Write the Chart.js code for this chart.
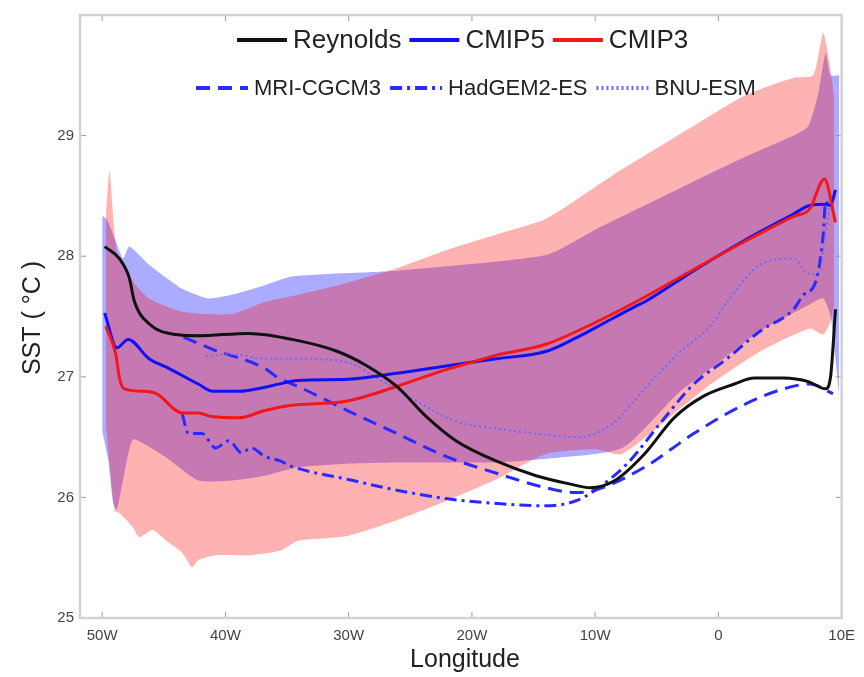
<!DOCTYPE html>
<html>
<head>
<meta charset="utf-8">
<script src="https://cdn.jsdelivr.net/npm/chart.js@4"></script>
<style>
  body { margin: 0; background: #fff; }
  #wrap { width: 864px; height: 677px; }
  canvas { filter: blur(0.6px); }
</style>
</head>
<body>
<div id="wrap"><canvas id="chart"></canvas></div>
<script>
// ---------- DATOS ----------
const xTickValues = [-50, -40, -30, -20, -10, 0, 10];
const xTickLabels = ['50W', '40W', '30W', '20W', '10W', '0', '10E'];
const yTickValues = [25, 26, 27, 28, 29];

// Reynolds (observado)
const reynoldsLon = [-49.8, -48.6, -47.8, -47.4, -46.2, -44.0, -42.2, -38.1, -34.1, -30.9, -28.5, -26.1, -23.7, -21.3, -18.0, -14.8, -12.0, -10.4, -8.4, -6.0, -3.6, -1.2, 1.3, 2.9, 5.3, 7.3, 8.7, 9.1, 9.5];
const reynoldsSst = [28.08, 27.98, 27.82, 27.63, 27.44, 27.35, 27.34, 27.36, 27.30, 27.21, 27.09, 26.92, 26.67, 26.47, 26.30, 26.18, 26.11, 26.08, 26.14, 26.36, 26.66, 26.84, 26.94, 26.99, 26.99, 26.96, 26.90, 27.00, 27.56];

// medias de los ensambles
const cmip5Lon = [-49.8, -48.8, -47.9, -46.2, -44.6, -42.2, -41.0, -38.9, -36.5, -34.1, -30.1, -26.1, -22.1, -18.0, -14.0, -11.6, -9.2, -6.8, -6.0, -2.0, 2.1, 6.1, 7.4, 8.7, 9.1, 9.5];
const cmip5Sst = [27.53, 27.24, 27.31, 27.15, 27.07, 26.94, 26.88, 26.88, 26.92, 26.97, 26.98, 27.03, 27.09, 27.15, 27.21, 27.32, 27.45, 27.58, 27.62, 27.88, 28.13, 28.35, 28.42, 28.43, 28.42, 28.55];
const cmip3Lon = [-49.7, -48.9, -48.6, -48.2, -46.7, -45.6, -43.5, -42.2, -41.1, -38.9, -36.8, -34.9, -30.1, -26.1, -22.1, -19.7, -18.0, -14.0, -10.0, -6.0, -2.0, 2.1, 6.1, 7.4, 8.6, 9.5];
const cmip3Sst = [27.42, 27.19, 26.99, 26.90, 26.88, 26.86, 26.70, 26.70, 26.67, 26.66, 26.72, 26.76, 26.80, 26.92, 27.06, 27.13, 27.18, 27.27, 27.45, 27.66, 27.89, 28.12, 28.33, 28.39, 28.64, 28.28];

// modelos individuales
const mriLon = [-43.4, -41.1, -36.8, -35.7, -34.1, -30.1, -26.1, -22.1, -18.0, -14.0, -11.6, -10.0, -6.0, -2.0, 2.1, 5.3, 7.4, 9.3];
const mriSst = [27.33, 27.23, 27.07, 26.99, 26.92, 26.72, 26.53, 26.34, 26.20, 26.08, 26.04, 26.06, 26.25, 26.53, 26.77, 26.90, 26.94, 26.86];
const hadgemLon = [-43.5, -43.0, -41.9, -40.8, -39.7, -38.7, -37.9, -36.8, -35.5, -34.7, -30.1, -26.1, -22.1, -18.0, -14.0, -11.6, -10.0, -7.4, -4.6, -2.0, 0.7, 3.4, 6.1, 6.9, 7.9, 8.5, 8.7, 9.1];
const hadgemSst = [26.69, 26.53, 26.53, 26.41, 26.47, 26.37, 26.41, 26.34, 26.30, 26.26, 26.15, 26.06, 25.99, 25.95, 25.93, 25.97, 26.06, 26.28, 26.63, 26.94, 27.15, 27.38, 27.56, 27.68, 27.79, 28.17, 28.45, 28.40];
const bnuLon = [-41.6, -39.5, -36.8, -34.4, -30.1, -27.7, -24.5, -21.3, -18.0, -14.0, -11.4, -8.6, -6.0, -3.3, -0.6, 0.7, 3.4, 6.1, 7.1, 7.7, 8.3, 8.5, 9.0];
const bnuSst = [27.17, 27.19, 27.15, 27.15, 27.12, 26.99, 26.80, 26.63, 26.57, 26.52, 26.50, 26.61, 26.90, 27.19, 27.43, 27.62, 27.93, 27.98, 27.87, 27.85, 27.90, 28.05, 28.40];

// rangos (sombras)
const cmip5UpLon = [-50.0, -49.6, -48.8, -48.3, -47.8, -46.2, -43.5, -41.4, -39.5, -36.8, -34.7, -30.1, -26.1, -14.0, -10.0, -6.0, -2.0, 2.1, 6.1, 7.3, 8.1, 8.7, 9.1, 9.8];
const cmip5Up = [28.34, 28.30, 28.10, 27.98, 28.08, 27.93, 27.73, 27.65, 27.68, 27.76, 27.83, 27.86, 27.88, 28.01, 28.22, 28.42, 28.62, 28.82, 29.00, 29.08, 29.35, 29.68, 29.50, 29.50];
const cmip5LowLon = [-50.0, -49.5, -49.1, -48.8, -48.2, -47.5, -46.2, -44.8, -42.2, -39.5, -36.8, -34.1, -30.1, -26.1, -18.0, -14.0, -7.8, -3.3, -0.6, 3.4, 7.4, 8.5, 9.1, 9.8];
const cmip5Low = [26.55, 26.30, 25.95, 25.90, 26.20, 26.48, 26.42, 26.33, 26.14, 26.14, 26.18, 26.25, 26.28, 26.29, 26.29, 26.32, 26.41, 26.86, 27.07, 27.38, 27.60, 27.65, 27.50, 26.85];
const cmip3UpLon = [-49.7, -49.4, -48.8, -47.5, -46.2, -43.5, -39.5, -36.8, -34.1, -30.1, -26.1, -22.1, -18.0, -14.0, -8.6, -3.3, 2.1, 6.1, 7.7, 8.5, 9.1, 9.4];
const cmip3Up = [28.35, 28.70, 28.03, 27.79, 27.65, 27.54, 27.52, 27.62, 27.68, 27.78, 27.90, 28.05, 28.18, 28.31, 28.67, 29.00, 29.33, 29.48, 29.50, 29.85, 29.55, 29.30];
const cmip3LowLon = [-49.7, -49.0, -48.6, -47.5, -47.0, -45.9, -44.8, -43.5, -42.7, -42.2, -40.8, -38.1, -35.5, -34.1, -30.1, -26.1, -22.1, -18.0, -14.0, -10.0, -7.8, -3.3, -0.6, 3.4, 7.4, 8.5, 9.1, 9.4];
const cmip3Low = [26.60, 25.89, 25.87, 25.75, 25.67, 25.73, 25.64, 25.54, 25.42, 25.48, 25.52, 25.52, 25.56, 25.64, 25.68, 25.81, 25.97, 26.15, 26.36, 26.40, 26.36, 26.72, 26.94, 27.21, 27.40, 27.35, 27.46, 27.60];

const legendRow1 = ['Reynolds', 'CMIP5', 'CMIP3'];
const legendRow2 = ['MRI-CGCM3', 'HadGEM2-ES', 'BNU-ESM'];

// ---------- UTILIDADES ----------
const FONT = '"Liberation Sans", Arial, Helvetica, sans-serif';
function pts(lons, vals) {
    return lons.map((x, i) => ({ x: x, y: vals[i] }));
}
function band(label, lons, vals, color, fill, order) {
    return { label: label, data: pts(lons, vals), borderWidth: 0, borderColor: 'rgba(0,0,0,0)',
             backgroundColor: color, fill: fill, order: order, pointRadius: 0, tension: 0.2 };
}
function line(label, lons, vals, color, width, dash, order) {
    return { label: label, data: pts(lons, vals), borderColor: color, borderWidth: width,
             borderDash: dash, fill: false, order: order, pointRadius: 0,
             cubicInterpolationMode: 'monotone', borderCapStyle: 'butt' };
}

// ---------- MARCO, TICKS, LEYENDA, TITULOS ----------
const decor = {
    id: 'decor',
    afterDatasetsDraw(chart) {
        const c = chart.ctx, a = chart.chartArea;
        const sx = chart.scales.x, sy = chart.scales.y;
        c.save();
        c.strokeStyle = '#9a9a9a';
        c.lineWidth = 1;
        xTickValues.forEach(v => {
            const px = sx.getPixelForValue(v);
            c.beginPath(); c.moveTo(px, a.bottom); c.lineTo(px, a.bottom - 6); c.stroke();
            c.beginPath(); c.moveTo(px, a.top); c.lineTo(px, a.top + 6); c.stroke();
        });
        yTickValues.concat([30]).forEach(v => {
            const py = sy.getPixelForValue(v);
            c.beginPath(); c.moveTo(a.left, py); c.lineTo(a.left + 6, py); c.stroke();
            c.beginPath(); c.moveTo(a.right, py); c.lineTo(a.right - 6, py); c.stroke();
        });
        c.strokeStyle = '#d2d2d2';
        c.lineWidth = 2.5;
        c.strokeRect(a.left, a.top, a.right - a.left, a.bottom - a.top);
        c.restore();
    },
    afterDraw(chart) {
        const c = chart.ctx;
        const byLabel = {};
        chart.data.datasets.forEach(d => { byLabel[d.label] = d; });
        function row(labels, x0, y, size, lineLen, lineW, itemGap) {
            let x = x0;
            c.font = size + 'px ' + FONT;
            c.textBaseline = 'middle';
            c.textAlign = 'left';
            labels.forEach(lb => {
                const d = byLabel[lb];
                c.save();
                c.strokeStyle = d.borderColor;
                c.lineWidth = lineW;
                c.setLineDash(d.borderDash || []);
                c.beginPath(); c.moveTo(x, y); c.lineTo(x + lineLen, y); c.stroke();
                c.restore();
                x += lineLen + 6;
                c.fillStyle = '#222';
                c.fillText(lb, x, y + 1);
                x += c.measureText(lb).width + itemGap;
            });
        }
        row(legendRow1, 237, 40, 26, 50, 4, 8);
        row(legendRow2, 196, 88, 22, 52, 4, 9);

        // titulos de ejes
        c.save();
        c.fillStyle = '#222';
        c.font = '25px ' + FONT;
        c.textAlign = 'center';
        c.textBaseline = 'alphabetic';
        c.fillText('Longitude', 465, 667);
        c.translate(40, 318);
        c.rotate(-Math.PI / 2);
        c.fillText('SST ( °C )', 0, 0);
        c.restore();
    }
};

// ---------- GRAFICA ----------
const ctx = document.getElementById('chart');
const chart = new Chart(ctx, {
    type: 'line',
    data: {
        datasets: [
            band('CMIP5 range', cmip5UpLon, cmip5Up, 'rgba(0,0,255,0.33)', '+1', 10),
            band('CMIP5 low', cmip5LowLon, cmip5Low, 'rgba(0,0,0,0)', false, 10),
            band('CMIP3 range', cmip3UpLon, cmip3Up, 'rgba(255,0,0,0.3)', '+1', 9),
            band('CMIP3 low', cmip3LowLon, cmip3Low, 'rgba(0,0,0,0)', false, 9),
            line('MRI-CGCM3', mriLon, mriSst, '#2a2aff', 3, [14, 8], 6),
            line('HadGEM2-ES', hadgemLon, hadgemSst, '#2a2aff', 3, [12, 5, 3, 5], 5),
            line('BNU-ESM', bnuLon, bnuSst, '#6a6aff', 2, [2, 3], 4),
            line('CMIP5', cmip5Lon, cmip5Sst, '#1010f5', 3, [], 3),
            line('CMIP3', cmip3Lon, cmip3Sst, '#f01818', 3, [], 2),
            line('Reynolds', reynoldsLon, reynoldsSst, '#111111', 3, [], 1)
        ]
    },
    options: {
        responsive: true,
        maintainAspectRatio: false,
        animation: false,
        layout: { padding: { top: 11, right: 15, left: 0, bottom: 0 } },
        plugins: { legend: { display: false }, tooltip: { enabled: false } },
        scales: {
            x: {
                type: 'linear', min: -51.8, max: 10,
                afterBuildTicks: s => { s.ticks = xTickValues.map(v => ({ value: v })); },
                afterFit: s => { s.height = 59; },
                grid: { display: false, drawTicks: false }, border: { display: false },
                ticks: {
                    padding: 9, maxRotation: 0, autoSkip: false, color: '#444',
                    font: { family: FONT, size: 15 },
                    callback: v => xTickLabels[xTickValues.indexOf(v)]
                }
            },
            y: {
                type: 'linear', min: 25, max: 30,
                afterBuildTicks: s => { s.ticks = yTickValues.map(v => ({ value: v })); },
                afterFit: s => { s.width = 80; },
                grid: { display: false, drawTicks: false }, border: { display: false },
                ticks: { padding: 6, color: '#444', font: { family: FONT, size: 15 } }
            }
        }
    },
    plugins: [decor]
});
</script>
</body>
</html>
